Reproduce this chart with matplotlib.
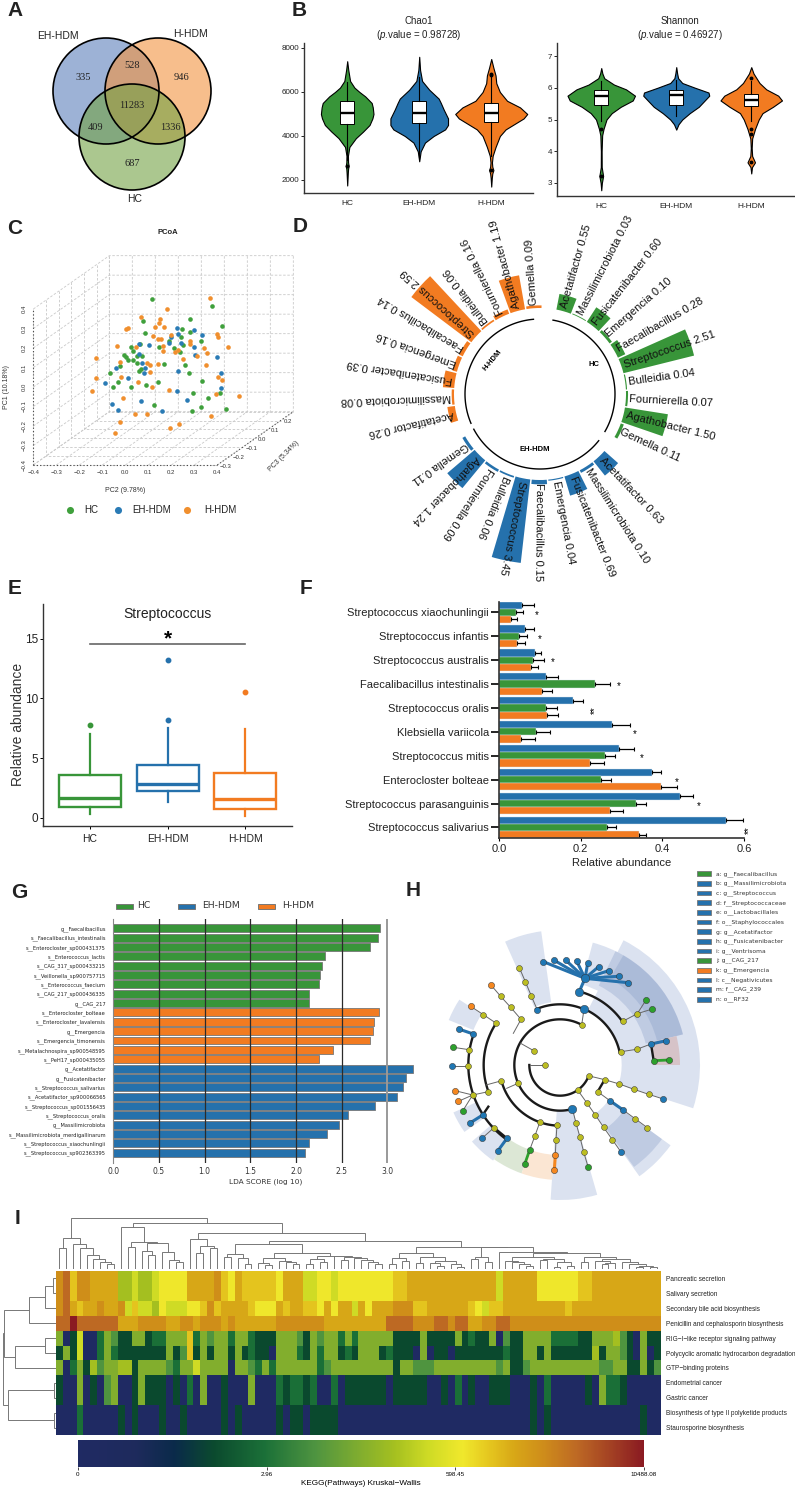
import numpy as np
import matplotlib
matplotlib.use("Agg")
import matplotlib.pyplot as plt
from matplotlib.patches import Circle, Wedge, Rectangle
from matplotlib.colors import LinearSegmentedColormap, Normalize
from matplotlib.colorbar import ColorbarBase

plt.rcParams['font.family'] = ['Liberation Sans', 'DejaVu Sans']
plt.rcParams['mathtext.fontset'] = 'custom'
plt.rcParams['mathtext.it'] = 'Liberation Sans:italic'
plt.rcParams['mathtext.rm'] = 'Liberation Sans'

W, H = 795, 1488
GREEN, BLUE, ORANGE = '#389539', '#2571AC', '#F27B21'
groups = ['HC', 'EH-HDM', 'H-HDM']
group_colors = [GREEN, BLUE, ORANGE]

#--A venn--------------------------------------------------------
venn_counts = ['335', '528', '946', '11283', '409', '1336', '687']

#--B violins (value, half width)---------------------------------
chao_levels = [
    [1750, 2300, 2500, 2650, 2800, 3100, 3500, 3900, 4200, 4500, 4800, 5000, 5300, 5500, 5800, 6000, 6200, 6500, 7000, 7400],
    [2850, 3300, 3700, 4000, 4300, 4500, 4800, 5200, 5500, 5700, 6100, 6500, 7000, 7600],
    [1700, 2100, 2300, 2450, 2600, 2800, 3100, 3500, 4000, 4300, 4500, 4800, 5000, 5300, 5600, 6000, 6400, 6750, 7100, 7500]]
chao_widths = [
    [0, .008, .012, .02, .012, .01, .03, .12, .22, .31, .35, .365, .355, .34, .25, .17, .10, .04, .015, 0],
    [0, .02, .08, .2, .36, .40, .40, .34, .30, .27, .14, .04, .012, 0],
    [0, .008, .015, .03, .015, .01, .02, .06, .12, .2, .30, .45, .5, .40, .22, .12, .07, .06, .03, 0]]
chao_box = [[4550, 5030, 5570, 2900, 6450], [4600, 5030, 5600, 3050, 6700], [4650, 5030, 5500, 3100, 6700]]
chao_out = [[2650], [], [6750, 6800, 2450]]

shan_levels = [
    [2.77, 3.0, 3.22, 3.5, 4.0, 4.5, 4.7, 5.0, 5.2, 5.4, 5.6, 5.75, 5.95, 6.1, 6.3, 6.45, 6.62],
    [4.68, 4.85, 5.0, 5.2, 5.4, 5.55, 5.75, 5.85, 6.0, 6.15, 6.3, 6.45, 6.65],
    [3.3, 3.5, 3.65, 3.85, 4.1, 4.4, 4.7, 5.0, 5.2, 5.4, 5.6, 5.75, 5.95, 6.15, 6.3, 6.45, 6.65]]
shan_widths = [
    [0, .008, .025, .006, .005, .012, .03, .07, .14, .26, .42, .45, .33, .17, .04, .015, 0],
    [0, .03, .08, .18, .3, .36, .44, .43, .25, .08, .025, .012, 0],
    [0, .01, .05, .012, .006, .012, .05, .1, .15, .29, .41, .36, .2, .11, .07, .03, 0]]
shan_box = [[5.45, 5.73, 5.93, 4.95, 6.2], [5.47, 5.78, 5.92, 5.1, 6.25], [5.43, 5.62, 5.8, 4.95, 6.2]]
shan_out = [[4.7, 3.22], [], [6.32, 4.7, 4.55, 3.65]]

#--C PCoA, front plane projection--------------------------------
pc2_hc = [.114, .377, .078, .280, .422, .248, .283, .084, .243, .330, .023, .062, .188, .145, .212, .251, .239, -.004, .004, .010, .033, .052, .074, .033, .049, .061, .070, .170, .259, .275, -.022, -.065, -.033, -.052, .023, .088, .141, .332, .293, .358, .410, .126, .288, .329, .438]
pc1_hc = [.450, .417, .337, .347, .311, .297, .284, .275, .258, .234, .205, .219, .234, .203, .200, .217, .178, .166, .154, .140, .185, .157, .157, .137, .121, .084, .092, .118, .111, .072, .109, .070, .024, .000, .002, .009, .026, .031, -.031, -.058, -.029, -.091, -.121, -.104, -.111]
pc2_eh = [.226, .297, .332, .197, .228, .059, .103, .191, .243, .299, .058, .304, .400, .074, .084, .080, .228, .416, -.042, .012, -.090, .416, .226, .070, .268, -.058, -.030, .158]
pc1_eh = [.304, .291, .268, .258, .274, .219, .214, .224, .227, .207, .169, .162, .156, .123, .099, .074, .084, .074, .097, .048, .021, -.003, -.022, -.072, -.067, -.085, -.116, -.121]
pc2_h = [.370, .181, .070, .151, .146, .130, .167, .001, .012, .119, .199, .397, .401, .143, .155, .283, .280, .045, -.036, .445, .341, .164, .164, .216, .230, .357, .312, .251, -.126, -.025, .093, .107, .141, .352, .106, -.017, -.126, .057, .116, .401, .420, .188, -.145, .396, .496, -.009, .041, .094, -.023, -.046, .194, .235, .372]
pc1_h = [.458, .400, .357, .347, .326, .306, .306, .299, .304, .263, .265, .274, .256, .248, .248, .234, .221, .207, .212, .207, .198, .185, .212, .179, .188, .173, .159, .142, .149, .130, .123, .113, .120, .113, .079, .050, .048, .026, .000, .051, .034, -.017, -.021, -.034, -.046, -.056, -.137, -.137, -.179, -.236, -.209, -.190, -.149]
pc_ticks = [-.4, -.3, -.2, -.1, 0.0, .1, .2, .3, .4]
pc3_ticks = [-.3, -.2, -.1, 0.0, .1, .2, .3]

#--D circular bars-----------------------------------------------
genera = ['Acetatifactor', 'Massilimicrobiota', 'Fusicatenibacter', 'Emergencia', 'Faecalibacillus',
          'Streptococcus', 'Bulleidia', 'Fournierella', 'Agathobacter', 'Gemella']
circ_hc = [.55, .03, .60, .10, .28, 2.51, .04, .07, 1.50, .11]
circ_eh = [.63, .10, .69, .04, .15, 3.45, .06, .09, 1.24, .11]
circ_h = [.26, .08, .39, .16, .14, 2.59, .06, .16, 1.19, .09]

#--E box---------------------------------------------------------
strep_box = [[.95, 1.65, 3.6, .3, 7.0], [2.25, 2.85, 4.45, 1.3, 7.5], [.75, 1.55, 3.8, .2, 7.45]]
strep_out = [[7.75], [8.2, 13.2], [10.5]]

#--F species bars------------------------------------------------
species = ['Streptococcus xiaochunlingii', 'Streptococcus infantis', 'Streptococcus australis',
           'Faecalibacillus intestinalis', 'Streptococcus oralis', 'Klebsiella variicola',
           'Streptococcus mitis', 'Enterocloster bolteae', 'Streptococcus parasanguinis',
           'Streptococcus salivarius']
sp_eh = [.0575, .064, .0875, .116, .18, .276, .295, .375, .4425, .555]
sp_hc = [.0425, .049, .084, .236, .116, .09, .26, .249, .336, .264]
sp_h = [.03, .045, .079, .106, .1175, .055, .2225, .3975, .271, .3425]
sp_eh_err = [.0275, .021, .0165, .028, .026, .044, .035, .0225, .0315, .0425]
sp_hc_err = [.0165, .02, .025, .0365, .025, .036, .025, .026, .023, .022]
sp_h_err = [.014, .019, .016, .023, .0265, .034, .035, .0385, .0315, .0185]
sp_sig_x = [.0925, .099, .131, .294, .236, .3325, .349, .436, .489, .611]
sp_sig = ['*', '*', '*', '*', '**', '*', '*', '*', '*', '**']

#--G LDA---------------------------------------------------------
lda_names = ['g__Faecalibacillus', 's__Faecalibacillus_intestinalis', 's__Enterocloster_sp000431375',
             's__Enterococcus_lactis', 's__CAG_317_sp000433215', 's__Veillonella_sp900757715',
             's__Enterococcus_faecium', 's__CAG_217_sp000436335', 'g__CAG_217',
             's__Enterocloster_bolteae', 's__Enterocloster_lavalensis', 'g__Emergencia',
             's__Emergencia_timonensis', 's__Metalachnospira_sp900548595', 's__PeH17_sp000435055',
             'g__Acetatifactor', 'g__Fusicatenibacter', 's__Streptococcus_salivarius',
             's__Acetatifactor_sp900066565', 's__Streptococcus_sp001556435', 's__Streptococcus_oralis',
             'g__Massilimicrobiota', 's__Massilimicrobiota_merdigallinarum',
             's__Streptococcus_xiaochunlingii', 's__Streptococcus_sp902363395']
lda_scores = [2.92, 2.90, 2.81, 2.32, 2.28, 2.26, 2.25, 2.14, 2.14,
              2.91, 2.85, 2.84, 2.81, 2.40, 2.25,
              3.28, 3.20, 3.175, 3.105, 2.865, 2.57, 2.47, 2.34, 2.14, 2.10]
lda_groups = [0] * 9 + [2] * 6 + [1] * 10

#--H cladogram---------------------------------------------------
clade_center = (390, 555)
clade_light = [(185, 420, -18, 63), (250, 380, 14, 75), (190, 405, 98, 114), (280, 360, 147, 158),
               (270, 350, 204, 215), (270, 350, 221, 235), (137, 405, 266, 286), (180, 410, -54.5, -36)]
clade_dark = [(265, 380, 14, 64), (300, 380, 14, 60), (235, 378, -54, -36)]
clade_green = [(270, 345, 235, 250.5)]
clade_orange = [(270, 345, 250.5, 266)]
clade_red = [(280, 360, 0, 14)]
clade_arcs = [(92, 180, 340), (137, 62, 286), (182, 67, 113), (183, 12, 67), (182, 195, 267),
              (228, 35, 75), (229, 147, 200), (275, 160, 234)]
clade_thin = [
    [(345, 555), (300, 555)], [(311, 512), (272, 490)], [(264, 610), (230, 625)], [(212, 603), (168, 615)],
    [(175, 635), (128, 645)], [(330, 725), (315, 767), (299, 810)], [(381, 735), (378, 780), (376, 825)],
    [(427, 686), (438, 729), (450, 772), (461, 816), (474, 860)],
    [(443, 630), (470, 668), (496, 705), (521, 742), (547, 779), (573, 816)],
    [(478, 588), (524, 599), (568, 612), (612, 628), (656, 643), (700, 657)],
    [(503, 635), (541, 663)], [(578, 689), (615, 716), (652, 743)],
    [(573, 515), (620, 508), (663, 492)], [(580, 423), (622, 401), (648, 360)], [(622, 401), (667, 387)],
    [(322, 390), (304, 348), (286, 305), (268, 263)], [(455, 435), (462, 388)],
    [(273, 418), (242, 382), (212, 349), (182, 314)], [(199, 430), (160, 404), (122, 379)],
    [(117, 509), (70, 502)], [(113, 559), (66, 559)], [(128, 645), (75, 632)], [(128, 645), (85, 664)],
    [(128, 645), (98, 693)], [(192, 743), (157, 774)], [(273, 418), (250, 460)]]
clade_black = [[(524, 599), (503, 635)], [(663, 492), (671, 542)], [(192, 743), (231, 775)], [(158, 705), (175, 680)]]
clade_blue_lines = [[(541, 663), (578, 689)], [(663, 492), (709, 482)], [(447, 337), (465, 295)],
                    [(130, 462), (86, 447)], [(158, 705), (120, 729)], [(231, 775), (204, 812)],
                    [(465, 295), (340, 245)], [(465, 295), (373, 241)], [(465, 295), (407, 240)],
                    [(465, 295), (440, 243)], [(465, 295), (473, 250)], [(465, 295), (506, 260)],
                    [(465, 295), (536, 272)], [(465, 295), (566, 289)], [(465, 295), (593, 308)]]
clade_green_lines = [[(671, 542), (717, 540)], [(299, 810), (284, 853)]]
clade_orange_lines = [[(376, 825), (373, 870)]]
nodes_yellow = [(345, 555), (311, 512), (264, 610), (212, 603), (175, 635), (128, 645), (199, 430), (160, 404),
                (273, 418), (242, 382), (212, 349), (117, 509), (113, 559), (192, 743), (330, 725), (315, 767),
                (381, 735), (378, 780), (438, 729), (450, 772), (461, 816), (470, 668), (496, 705), (521, 742),
                (547, 779), (443, 630), (455, 435), (478, 588), (524, 599), (568, 612), (612, 628), (656, 643),
                (503, 635), (615, 716), (652, 743), (573, 515), (620, 508), (580, 423), (622, 401), (304, 348),
                (286, 305), (268, 263)]
nodes_blue = [(573, 816), (700, 657), (541, 663), (578, 689), (663, 492), (709, 482), (322, 390), (340, 245),
              (373, 241), (407, 240), (440, 243), (473, 250), (506, 260), (536, 272), (566, 289), (593, 308),
              (130, 462), (86, 447), (66, 559), (158, 705), (120, 729), (157, 774), (231, 775), (204, 812)]
nodes_blue_big = [(447, 337), (465, 295), (462, 388), (427, 686)]
nodes_green = [(299, 810), (284, 853), (474, 860), (671, 542), (717, 540), (648, 360), (667, 387), (70, 502), (98, 693)]
nodes_orange = [(376, 825), (373, 870), (75, 632), (85, 664), (122, 379), (182, 314)]
clade_labels = ['a: g__Faecalibacillus', 'b: g__Massilimicrobiota', 'c: g__Streptococcus', 'd: f__Streptococcaceae',
                'e: o__Lactobacillales', 'f: o__Staphylococcales', 'g: g__Acetatifactor', 'h: g__Fusicatenibacter',
                'i: g__Ventrisoma', 'j: g__CAG_217', 'k: g__Emergencia', 'l: c__Negativicutes', 'm: f__CAG_239',
                'n: o__RF32']
clade_label_colors = [GREEN] + [BLUE] * 8 + [GREEN, ORANGE] + [BLUE] * 3

#--I heatmap, level codes per pathway----------------------------
pathways = ['Pancreatic secretion', 'Salivary secretion', 'Secondary bile acid biosynthesis',
            'Penicillin and cephalosporin biosynthesis', 'RIG\u2212I\u2212like receptor signaling pathway',
            'Polycyclic aromatic hydrocarbon degradation', 'GTP\u2212binding proteins', 'Endometrial cancer',
            'Gastric cancer', 'Biosynthesis of type II polyketide products', 'Staurosporine biosynthesis']
row_pancreatic = ('ab8aa9999556556777799' '99a879888' '88799966776' '77777777' '88' '999999999'
                  '9999' '6' '99999' '777777' '88' '9999999999')
row_salivary = row_pancreatic
row_bile = ('ab9899a99a' '6866576667' '78a8999987' '7798998879' '799697999a' 'aa88999999'
            '87688' '999999999' '8' '9999999999999')
row_penicillin = ('bbcbbbbbb' '999aaaa99aa9aaa9a9999' '99' 'aaaaaaa' '999999999' 'bbbb' 'aaa' 'bb' 'a' 'bb'
                  '99a' 'a' 'bb' 'aaaaaaaaaaaaaaaaaaaaaa')
row_rig = ('4016002431' '1441224448' '2434424421' '11444314344242' '44444' '1111' '4' '1111' '4' '1'
           '211403' '11' '4444' '2222' '11' '444' '5' '3' '1' '0' '4' '11')
row_pah = ('1416002421' '1111114138' '1414414121' '10' '444' '21' '4' '2' '44' '121' '444' '12' '111' '0' '4' '0' '11' '0' '11'
           '11111' '2' '11' '44' '1' '4' '111111' '5' '1' '44' '3' '1' '0' '4' '0' '1')
row_gtp = ('4024153445' '5144443244' '6444404432' '4' '2' '444444' '2' '3' '444444444' '1' '44' '333' '44444'
           '4444' '3' '4' '11' '3' '4444444444' '33' '44' '11' '4' '1' '3')
row_endo = ('1004010340' '0141110102' '0400100040' '00' '2' '1' '22' '1' '2' '00' '2' '0' '111111' '0' '11111' '00' '1' '0' '2' '0'
            '1' '00' '111' '000' '1' '0' '2' '00000' '1' '0' '4' '22' '1' '00000')
row_gastric = row_endo
row_polyketide = ('0002000001' '0100010010' '0000101000' '0010110111' '1000000000' '0000000000'
                  '0000000001' '0100000000' '00000100')
row_stauro = row_polyketide
heat_rows = [row_pancreatic, row_salivary, row_bile, row_penicillin, row_rig, row_pah, row_gtp,
             row_endo, row_gastric, row_polyketide, row_stauro]
level_frac = [0, .24, .33, .42, .5, .56, .62, .68, .73, .77, .82, .88, 1.0]
cbar_ticks = [0, .334, .666, 1.0]
cbar_labels = ['0', '2.96', '598.45', '10488.08']

# dendrograms: (height, left, right), None is a leaf
_ = None
t_a = (97, (67, _, _), (79, _, (67, _, (47, _, (34, _, (27, _, (19, _, _)))))))
t_b = (130, _, (85, (72, _, _), (82, (60, _, (47, _, _)), (55, _, (32, _, (25, _, _))))))
t_c = (94, _, (75, (52, _, _), (69, _, _)))
t_d = (49, (40, _, _), (37, _, (19, _, _)))
t_e = (37, (22, _, (17, _, _)), (30, _, (25, _, (19, _, _))))
t_f = (45, (34, (19, _, _), (25, _, _)), (44, _, (40, (32, _, _), (37, _, (32, _, (25, _, (19, _, _)))))))
t_g = (52, (37, (19, _, _), (30, _, _)), (40, (22, _, _), (30, (22, _, (14, _, _)), (19, _, (12, _, _)))))
t_h = (42, (34, _, _), (25, _, _))
t_i = (52, (40, (30, _, (25, _, (19, _, (14, _, _)))), (34, (32, _, _), (27, (12, _, _), (14, _, _)))),
       (42, (25, _, _), (34, (30, _, (22, (19, _, _), _)), (25, _, (21, _, (15, (10, _, _), (12, _, _)))))))
col_tree = (157, t_a, (144, t_b, (114, t_c, (89, (79, t_d, (52, t_e, t_f)), (72, t_g, (70, t_h, (55, _, t_i)))))))
row_tree = (104, (102, (52, (22, (5, _, _), _), _), (80, (22, _, _), _)), (95, (3, _, _), (3, _, _)))


fig = plt.figure(figsize=(W / 100, H / 100), dpi=100)


def px_axes(l, t, r, b, **kw):
    return fig.add_axes([l / W, 1 - b / H, (r - l) / W, (b - t) / H], **kw)


def box_stats(box, fliers):
    return [dict(q1=b[0], med=b[1], q3=b[2], whislo=b[3], whishi=b[4], fliers=f) for b, f in zip(box, fliers)]


def clean_spines(ax, lw=1.1, color='#333333'):
    ax.spines['top'].set_visible(False)
    ax.spines['right'].set_visible(False)
    ax.spines['left'].set_linewidth(lw)
    ax.spines['bottom'].set_linewidth(lw)
    ax.spines['left'].set_color(color)
    ax.spines['bottom'].set_color(color)


def walk_tree(ax, node, leaf, base, vertical):
    if node is None:
        pos = leaf[0] + .5
        leaf[0] += 1
        return pos, base
    h, left, right = node
    p1, h1 = walk_tree(ax, left, leaf, base, vertical)
    p2, h2 = walk_tree(ax, right, leaf, base, vertical)
    if vertical:
        ax.plot([p1, p1, p2, p2], [h1, h, h, h2], color='#777777', lw=.7, solid_joinstyle='miter')
    else:
        ax.plot([h1, h, h, h2], [p1, p1, p2, p2], color='#777777', lw=.7, solid_joinstyle='miter')
    return (p1 + p2) / 2, h


overlay = fig.add_axes([0, 0, 1, 1], zorder=20)
overlay.set_xlim(0, W)
overlay.set_ylim(H, 0)
overlay.axis('off')

for letter, x, y in [('A', 15, 10), ('B', 299, 10), ('C', 15, 229), ('D', 300, 227), ('E', 15, 589),
                     ('F', 306, 589), ('G', 19, 893), ('H', 413, 890), ('I', 18, 1219)]:
    overlay.text(x, y, letter, fontsize=15, fontweight='bold', ha='center', va='center', color='#222222')

#--A-------------------------------------------------------------
venn_centers = [(106, 91), (158, 91), (132, 137)]
venn_fills = [(92 / 255, 127 / 255, 187 / 255), (243 / 255, 147 / 255, 63 / 255), (115 / 255, 162 / 255, 68 / 255)]
for c, col in zip(venn_centers, venn_fills):
    overlay.add_patch(Circle(c, 53, facecolor=col, alpha=.6, lw=0))
for c in venn_centers:
    overlay.add_patch(Circle(c, 53, fill=False, edgecolor='black', lw=1.2))
venn_pos = [(83, 78), (132, 65), (182, 78), (132, 106), (96, 128), (170, 128), (132, 164)]
for txt, p in zip(venn_counts, venn_pos):
    overlay.text(p[0], p[1], txt, family='Liberation Serif', fontsize=7.5, ha='center', va='center', color='#222222')
for txt, x, y in [('EH-HDM', 58, 36), ('H-HDM', 191, 34), ('HC', 135, 199)]:
    overlay.text(x, y, txt, fontsize=7.5, ha='center', va='center', color='#222222')


#--B-------------------------------------------------------------
def violin_panel(ax, levels, widths, box, outs, title, title_x):
    for i in range(3):
        y = np.array(levels[i])
        w = np.array(widths[i])
        ax.fill_betweenx(y, i - w, i + w, facecolor=group_colors[i], edgecolor='black', lw=.8, zorder=2)
    ax.bxp(box_stats(box, outs), positions=[0, 1, 2], widths=.19, patch_artist=True, showcaps=False,
           boxprops=dict(facecolor='white', edgecolor='black', lw=.7), medianprops=dict(color='black', lw=1.7),
           whiskerprops=dict(color='black', lw=.8), flierprops=dict(marker='o', ms=1.8, mfc='black', mec='black'),
           manage_ticks=False, zorder=3)
    ax.set_xticks([0, 1, 2])
    ax.set_xticklabels(groups, fontsize=6, color='#222222')
    ax.tick_params(axis='y', labelsize=5.8, length=2, width=.6, pad=1.5, labelcolor='#222222')
    ax.tick_params(axis='x', length=0, pad=5)
    clean_spines(ax, 1.0)
    overlay.text(title_x, 42, title, ha='center', va='bottom', fontsize=7, linespacing=1.2, color='#222222')


ax = px_axes(304, 43, 533, 193)
ax.set_xlim(-.6, 2.58)
ax.set_ylim(2000 - 13 / 44 * 2000, 8000 + 5 / 44 * 2000)
ax.set_yticks([2000, 4000, 6000, 8000])
violin_panel(ax, chao_levels, chao_widths, chao_box, chao_out, 'Chao1\n($\\mathit{p}$.value = 0.98728)', 419)

ax = px_axes(557, 43, 794, 196)
ax.set_xlim(-.59, 2.57)
ax.set_ylim(3 - 13 / 31.7, 7 + 13 / 31.7)
ax.set_yticks([3, 4, 5, 6, 7])
violin_panel(ax, shan_levels, shan_widths, shan_box, shan_out, 'Shannon\n($\\mathit{p}$.value = 0.46927)', 680)

#--C-------------------------------------------------------------
ax = px_axes(0, 210, 300, 530)
ax.set_xlim(-376 / 690, 524 / 690)
ax.set_ylim(-429 / 585, 531 / 585)
ax.axis('off')
DX, DY = 228 / 690, 160 / 585


def proj(x, d, y):
    t = (d + .3) / .6
    return x + t * DX, y + t * DY


grid_kw = dict(color='#c9c9c9', lw=.6, ls=(0, (3, 2)), zorder=1)
lo, hi = pc_ticks[0], pc_ticks[-1]
for v in pc_ticks:
    p = [proj(v, pc3_ticks[0], lo), proj(v, pc3_ticks[-1], lo), proj(v, pc3_ticks[-1], hi)]
    ax.plot([q[0] for q in p], [q[1] for q in p], **grid_kw)
    p = [proj(lo, pc3_ticks[0], v), proj(lo, pc3_ticks[-1], v), proj(hi, pc3_ticks[-1], v)]
    ax.plot([q[0] for q in p], [q[1] for q in p], **grid_kw)
for d in pc3_ticks:
    p = [proj(lo, d, hi), proj(lo, d, lo), proj(hi, d, lo)]
    ax.plot([q[0] for q in p], [q[1] for q in p], **grid_kw)
# dotted front axes
dot_kw = dict(color='#444444', lw=.8, ls=(0, (1, 2)), zorder=2)
ax.plot([lo, hi], [lo, lo], **dot_kw)
ax.plot([lo, lo], [lo, hi], **dot_kw)
p0, p1 = proj(hi, pc3_ticks[0], lo), proj(hi, pc3_ticks[-1], lo)
ax.plot([p0[0], p1[0]], [p0[1], p1[1]], **dot_kw)
for v in pc_ticks:
    s = ('%.1f' % v).replace('-', '\u2212')
    ax.text(v, lo - .024, s, fontsize=4.3, ha='center', va='top', color='#333333')
    ax.text(lo - .028, v, s, fontsize=4.3, rotation=90, ha='right', va='center', color='#333333')
for d in pc3_ticks[:-1]:
    q = proj(hi, d, lo)
    ax.text(q[0] + .012, q[1] - .006, ('%.1f' % d).replace('-', '\u2212'), fontsize=4.3, ha='left', va='center', color='#333333')
ax.scatter(pc2_hc, pc1_hc, s=11, color='#3FA03C', lw=0, zorder=3)
ax.scatter(pc2_eh, pc1_eh, s=11, color='#2A7BB5', lw=0, zorder=3)
ax.scatter(pc2_h, pc1_h, s=11, color='#F08F2E', lw=0, zorder=3)
overlay.text(168, 232, 'PCoA', fontsize=5.5, fontweight='bold', ha='center', va='center', color='#222222')
overlay.text(125, 490, 'PC2 (9.78%)', fontsize=5, ha='center', va='center', color='#333333')
overlay.text(7, 387, 'PC1 (10.18%)', fontsize=5, rotation=90, ha='center', va='center', color='#333333')
overlay.text(284, 456, 'PC3 (5.34%)', fontsize=5, rotation=45, ha='center', va='center', color='#333333')
for x, name, tx, col in [(70, 'HC', 84, '#3FA03C'), (118, 'EH-HDM', 132, '#2A7BB5'), (187, 'H-HDM', 204, '#F08F2E')]:
    overlay.scatter([x], [510], s=26, color=col, lw=0)
    overlay.text(tx, 510, name, fontsize=7, ha='left', va='center', color='#222222')

#--D-------------------------------------------------------------
PXU = 29.0
ax = px_axes(370, 224, 710, 564, projection='polar')
ax.set_theta_zero_location('N')
ax.set_theta_direction(-1)
ax.set_ylim(0, 170 / PXU)
ax.axis('off')
base = 86 / PXU
for vals, col, start, arc in [(circ_hc, GREEN, 16, (10, 120)), (circ_eh, BLUE, 136.5, (128.5, 242)), (circ_h, ORANGE, 257, (247, 355))]:
    th = start + 11 * np.arange(10)
    ax.bar(np.radians(th), vals, width=np.radians(10), bottom=base, color=col, lw=0, zorder=2)
    for t, name, v in zip(th, genera, vals):
        ax.text(np.radians(t), 89 / PXU, '%s %.2f' % (name, v), rotation=90 - t, rotation_mode='anchor',
                ha='left', va='center', fontsize=8, color='#111111', zorder=3)
    a = np.radians(np.linspace(arc[0], arc[1], 80))
    ax.plot(a, np.full(80, 75 / PXU), color='black', lw=1)
ax.text(np.radians(61), 61.6 / PXU, 'HC', fontsize=5.5, fontweight='bold', ha='center', va='center')
ax.text(np.radians(185), 56 / PXU, 'EH-HDM', fontsize=5.5, fontweight='bold', ha='center', va='center')
ax.text(np.radians(305), 58 / PXU, 'H-HDM', fontsize=5.5, fontweight='bold', rotation=50, ha='center', va='center')

#--E-------------------------------------------------------------
ax = px_axes(43, 604, 292, 825.7)
for i in range(3):
    c = group_colors[i]
    ax.bxp(box_stats([strep_box[i]], [strep_out[i]]), positions=[i], widths=.8, patch_artist=True, showcaps=False,
           boxprops=dict(facecolor='white', edgecolor=c, lw=1.7), medianprops=dict(color=c, lw=2.4),
           whiskerprops=dict(color=c, lw=1.6), flierprops=dict(marker='o', ms=3.2, mfc=c, mec=c), manage_ticks=False)
ax.set_xlim(-.606, 2.6)
ax.set_ylim(-.65, 17.9)
ax.set_xticks([0, 1, 2])
ax.set_xticklabels(groups, fontsize=7.5, color='#222222')
ax.set_yticks([0, 5, 10, 15])
ax.tick_params(axis='y', labelsize=8.5, length=2, width=.7, pad=1.5, labelcolor='#222222')
ax.tick_params(axis='x', length=2, width=.7, pad=4)
clean_spines(ax, 1.0)
ax.plot([0, 2], [14.55, 14.55], color='#666666', lw=1.2)
ax.text(1, 15.0, '*', fontsize=15, ha='center', va='center', fontweight='bold')
ax.text(1, 17.1, 'Streptococcus', fontsize=10, ha='center', va='center', color='#222222')
overlay.text(18, 724, 'Relative abundance', fontsize=10, rotation=90, ha='center', va='center', color='#333333')

#--F-------------------------------------------------------------
ax = px_axes(499, 602, 744, 838)
y = np.arange(len(species))
bar_h = .3
err_kw = dict(ecolor='black', elinewidth=.9, capsize=1.5, capthick=.8)
for off, vals, errs, col in [(-bar_h, sp_eh, sp_eh_err, BLUE), (0, sp_hc, sp_hc_err, GREEN), (bar_h, sp_h, sp_h_err, ORANGE)]:
    ax.barh(y + off, vals, height=bar_h, color=col, edgecolor='#D8E4EE', lw=.3,
            xerr=[np.zeros(len(vals)), errs], error_kw=err_kw)
for i, (sx, s) in enumerate(zip(sp_sig_x, sp_sig)):
    ax.text(sx, i + .1, s, fontsize=7, ha='center', va='center', rotation=90 if len(s) > 1 else 0)
ax.set_xlim(0, .6)
ax.set_ylim(9.44, -.43)
ax.set_yticks(y)
ax.set_yticklabels(species, fontsize=8, color='#222222')
ax.set_xticks([0, .2, .4, .6])
ax.set_xticklabels(['0.0', '0.2', '0.4', '0.6'], fontsize=8, color='#222222')
ax.tick_params(axis='y', length=5.8, width=1.2, pad=1.5)
ax.tick_params(axis='x', length=2.5, width=.8, pad=2)
ax.set_xlabel('Relative abundance', fontsize=8, labelpad=3, color='#222222')
clean_spines(ax, 1.2)

#--G-------------------------------------------------------------
ax = px_axes(113.3, 919, 418.8, 1162.7)
y = np.arange(len(lda_names))
ax.barh(y, lda_scores, height=.85, color=[group_colors[g] for g in lda_groups], edgecolor='#777777', lw=.6, zorder=2)
for v in [.5, 1, 1.5, 2, 2.5]:
    ax.axvline(v, color='#2b2b2b', lw=.9, zorder=3)
ax.axvline(3, color='#999999', lw=1.4, zorder=3)
ax.set_xlim(0, 3.344)
ax.set_ylim(25.07, -.995)
ax.set_yticks(y)
ax.set_yticklabels(lda_names, fontsize=3.7, family='DejaVu Sans', color='#222222')
ax.set_xticks([0, .5, 1, 1.5, 2, 2.5, 3])
ax.set_xticklabels(['0.0', '0.5', '1.0', '1.5', '2.0', '2.5', '3.0'], fontsize=5.5, family='DejaVu Sans', color='#333333')
ax.tick_params(axis='both', length=0)
ax.tick_params(axis='y', pad=5.3)
ax.tick_params(axis='x', pad=3)
ax.set_xlabel('LDA SCORE (log 10)', fontsize=5.3, family='DejaVu Sans', labelpad=2, color='#333333')
for s in ['top', 'right', 'bottom']:
    ax.spines[s].set_visible(False)
ax.spines['left'].set_color('#888888')
ax.spines['left'].set_linewidth(.8)
for x0, tx, name, col in [(116, 137, 'HC', GREEN), (178, 202, 'EH-HDM', BLUE), (258, 282, 'H-HDM', ORANGE)]:
    overlay.add_patch(Rectangle((x0, 903.5), 16.5, 5, facecolor=col, edgecolor='#777777', lw=.7))
    overlay.text(tx, 906, name, fontsize=6.7, family='DejaVu Sans', ha='left', va='center', color='#333333')

#--H-------------------------------------------------------------
ax = px_axes(430, 880, 795, 1205)
ax.set_xlim(0, 1095)
ax.set_ylim(975, 0)
ax.axis('off')


def add_wedges(items, color, alpha=1.0, z=1):
    # angles are read on screen, the y axis here points down
    for r0, r1, a0, a1 in items:
        ax.add_patch(Wedge(clade_center, r1, -a1, -a0, width=r1 - r0, facecolor=color, alpha=alpha, lw=0, zorder=z))


add_wedges(clade_light, '#DBE2F0')
add_wedges(clade_dark, '#7F96C4', alpha=.3, z=1.1)
add_wedges(clade_green, '#DCE7D5')
add_wedges(clade_orange, '#FBE6D3')
add_wedges(clade_red, '#D6C3C8', z=1.2)
for r, a0, a1 in clade_arcs:
    a = np.radians(np.linspace(a0, a1, 120))
    ax.plot(clade_center[0] + r * np.cos(a), clade_center[1] - r * np.sin(a), color='#1a1a1a', lw=1.7, zorder=3)
for lines, col, lw in [(clade_thin, '#666666', .7), (clade_black, '#1a1a1a', 1.7), (clade_blue_lines, BLUE, 2.2),
                       (clade_green_lines, '#2CA02C', 2.0), (clade_orange_lines, '#F5871F', 2.2)]:
    for line in lines:
        ax.plot([p[0] for p in line], [p[1] for p in line], color=col, lw=lw, zorder=3.5)
for pts, col, s in [(nodes_yellow, '#BCBD22', 18), (nodes_blue, '#1F77B4', 20), (nodes_blue_big, '#1F77B4', 36),
                    (nodes_green, '#2CA02C', 20), (nodes_orange, '#F5871F', 20)]:
    ax.scatter([p[0] for p in pts], [p[1] for p in pts], s=s, color=col, edgecolor='#333333', lw=.35, zorder=4)
for i, (name, col) in enumerate(zip(clade_labels, clade_label_colors)):
    yy = 873.7 + 9.66 * i
    overlay.add_patch(Rectangle((697, yy - 2.3), 14, 4.6, facecolor=col, edgecolor='#777777', lw=.6))
    overlay.text(716, yy, name, fontsize=4.3, family='DejaVu Sans', ha='left', va='center', color='#333333')

#--I-------------------------------------------------------------
heat_cmap = LinearSegmentedColormap.from_list('kegg', [
    (0, '#1F2A63'), (.1, '#1E2A5C'), (.17, '#0A2A4A'), (.24, '#0B4A2E'), (.33, '#1B7038'), (.42, '#4F9440'),
    (.5, '#82AE2E'), (.56, '#A5C020'), (.62, '#CFDB25'), (.68, '#F0E82C'), (.73, '#E4C41E'), (.77, '#D8A817'),
    (.82, '#CF8E1A'), (.88, '#BE6A24'), (1, '#8A1A22')], N=512)
heat_vals = np.array([[level_frac[int(c, 16)] for c in row] for row in heat_rows])
ax = px_axes(55.7, 1271, 660, 1435)
ax.imshow(heat_vals, cmap=heat_cmap, vmin=0, vmax=1, aspect='auto', interpolation='nearest')
ax.set_xticks([])
ax.yaxis.tick_right()
ax.set_yticks(range(len(pathways)))
ax.set_yticklabels(pathways, fontsize=4.7, color='#222222')
ax.tick_params(axis='y', length=0, pad=4)
for s in ax.spines.values():
    s.set_visible(False)

ax = px_axes(55.7, 1205, 660, 1270.7)
walk_tree(ax, col_tree, [0], 7, True)
ax.set_xlim(0, heat_vals.shape[1])
ax.set_ylim(0, 197)
ax.axis('off')

ax = px_axes(2, 1271, 55.7, 1435)
walk_tree(ax, row_tree, [0], 0, False)
ax.set_xlim(106, 0)
ax.set_ylim(len(pathways), 0)
ax.axis('off')

ax = px_axes(78, 1440, 644, 1467)
cb = ColorbarBase(ax, cmap=heat_cmap, norm=Normalize(0, 1), orientation='horizontal', ticks=cbar_ticks)
cb.set_ticklabels(cbar_labels)
cb.ax.tick_params(labelsize=4.5, length=2, width=.5, pad=1.5)
cb.outline.set_visible(False)
cb.set_label('KEGG(Pathways) Kruskal\u2212Wallis', fontsize=5.9, labelpad=2)

fig.savefig('out.png', dpi=100)
